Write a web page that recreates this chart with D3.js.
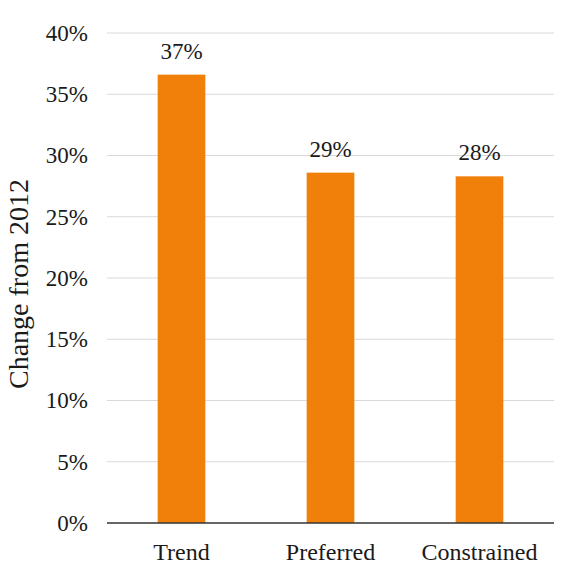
<!DOCTYPE html>
<html>
<head>
<meta charset="utf-8">
<script src="https://cdn.jsdelivr.net/npm/d3@7"></script>
<style>
  html, body { margin: 0; padding: 0; background: #fff; }
  svg text { font-family: "Liberation Serif", "Times New Roman", serif; fill: #1a1a1a; }
</style>
</head>
<body>
<svg id="chart" width="574" height="577"></svg>
<script>
const categories = ["Trend", "Preferred", "Constrained"];
const values = [0.366, 0.286, 0.283];
const valueLabels = ["37%", "29%", "28%"];
const yTicks = [0, 0.05, 0.10, 0.15, 0.20, 0.25, 0.30, 0.35, 0.40];
const yTitle = "Change from 2012";

const FONT = '"Liberation Serif", "Times New Roman", serif';
const svg = d3.select("#chart");
const margin = { left: 107, right: 20, top: 33, bottom: 54 };
const W = 574, H = 577;
const x0 = margin.left, x1 = W - margin.right;
const yBase = H - margin.bottom, yTop = margin.top;

const x = d3.scaleBand().domain(categories).range([x0, x1]).paddingInner(0.68).paddingOuter(0.34);
const y = d3.scaleLinear().domain([0, 0.40]).range([yBase, yTop]);

// gridlines
svg.append("g").selectAll("line").data(yTicks.filter(d => d > 0)).join("line")
  .attr("x1", x0).attr("x2", x1)
  .attr("y1", d => y(d)).attr("y2", d => y(d))
  .attr("stroke", "#d9d9d9").attr("stroke-width", 1.2);

// y axis labels
const yAxis = d3.axisLeft(y).tickValues(yTicks).tickFormat(d3.format(".0%")).tickSize(0).tickPadding(19);
const gy = svg.append("g").attr("transform", `translate(${x0},0)`).call(yAxis)
  .attr("font-family", FONT).attr("font-size", 23);
gy.select(".domain").remove();
gy.selectAll("text").attr("fill", "#1a1a1a").style("font-family", FONT);

// bars
svg.append("g").selectAll("rect").data(values).join("rect")
  .attr("x", (d, i) => x(categories[i]))
  .attr("width", x.bandwidth())
  .attr("y", d => y(d))
  .attr("height", d => y(0) - y(d))
  .attr("fill", "#f0800a");

// value labels
svg.append("g").selectAll("text").data(values).join("text")
  .attr("x", (d, i) => x(categories[i]) + x.bandwidth() / 2)
  .attr("y", d => y(d) - 16)
  .attr("text-anchor", "middle")
  .style("font-family", FONT)
  .style("font-size", "23px")
  .text((d, i) => valueLabels[i]);

// x axis
const xAxis = d3.axisBottom(x).tickSize(0).tickPadding(20);
const gx = svg.append("g").attr("transform", `translate(0,${yBase})`).call(xAxis)
  .attr("font-family", FONT).attr("font-size", 24);
gx.select(".domain").attr("stroke", "#333").attr("stroke-width", 1.5).attr("d", `M${x0},0H${x1}`);
gx.selectAll("text").attr("fill", "#1a1a1a").style("font-family", FONT);

// y title
svg.append("text")
  .attr("transform", `translate(28,${(yTop + yBase) / 2 + 6}) rotate(-90)`)
  .attr("text-anchor", "middle")
  .style("font-family", FONT)
  .style("font-size", "28px")
  .text(yTitle);
</script>
</body>
</html>
